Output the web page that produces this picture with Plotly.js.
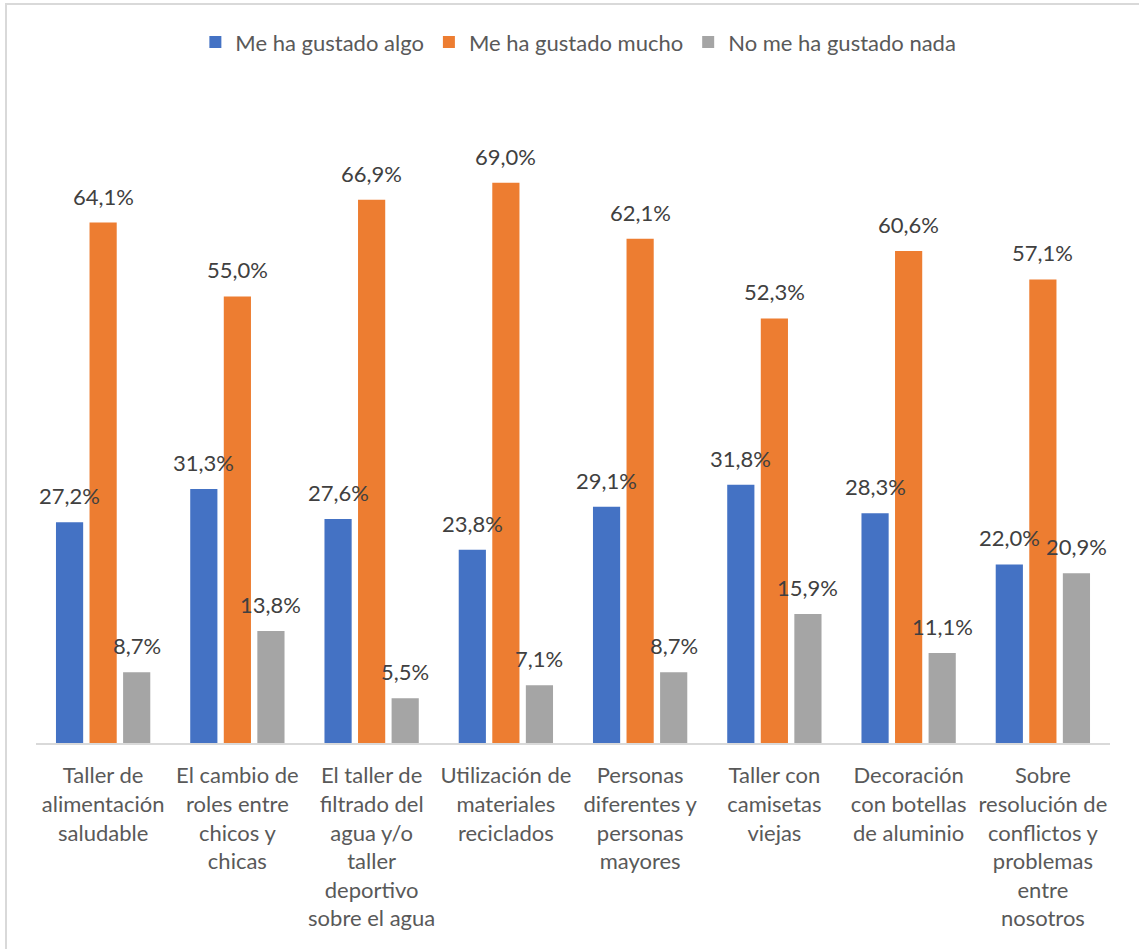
<!DOCTYPE html>
<html>
<head>
<meta charset="utf-8">
<script src="https://cdn.plot.ly/plotly-3.0.1.min.js"></script>
<style>
html,body{margin:0;padding:0;background:#fff;}
#wrap{position:relative;width:1139px;height:949px;overflow:hidden;}
#frame{position:absolute;left:5px;top:3px;width:1200px;height:1000px;border-left:2px solid #d9d9d9;border-top:2px solid #d9d9d9;pointer-events:none;}
#chart{position:absolute;left:0;top:0;width:1139px;height:949px;}
</style>
</head>
<body>
<div id="wrap"><div id="chart"></div><div id="frame"></div></div>
<script>
const categories = [
  "Taller de<br>alimentación<br>saludable",
  "El cambio de<br>roles entre<br>chicos y<br>chicas",
  "El taller de<br>filtrado del<br>agua y/o<br>taller<br>deportivo<br>sobre el agua",
  "Utilización de<br>materiales<br>reciclados",
  "Personas<br>diferentes y<br>personas<br>mayores",
  "Taller con<br>camisetas<br>viejas",
  "Decoración<br>con botellas<br>de aluminio",
  "Sobre<br>resolución de<br>conflictos y<br>problemas<br>entre<br>nosotros"
];
const seriesNames = ["Me ha gustado algo", "Me ha gustado mucho", "No me ha gustado nada"];
const algo  = [27.2, 31.3, 27.6, 23.8, 29.1, 31.8, 28.3, 22.0];
const mucho = [64.1, 55.0, 66.9, 69.0, 62.1, 52.3, 60.6, 57.1];
const nada  = [8.7, 13.8, 5.5, 7.1, 8.7, 15.9, 11.1, 20.9];

const values = [algo, mucho, nada];
const colors = ["#4472C4", "#ED7D31", "#A5A5A5"];
const FONT = "Lato, 'Open Sans', sans-serif";

const ids = categories.map((c, i) => "c" + i);

const traces = values.map((v, i) => ({
  type: "bar",
  name: seriesNames[i],
  x: ids,
  y: v,
  marker: {color: colors[i], line: {width: 0}},
  hoverinfo: "none"
}));

const fmt = v => v.toFixed(1).replace(".", ",") + "%";
const annotations = [];
values.forEach((v, i) => {
  v.forEach((val, j) => {
    annotations.push({
      x: ids[j], y: val, xref: "x", yref: "y",
      text: fmt(val), showarrow: false,
      xanchor: "center", yanchor: "bottom",
      xshift: (i - 1) * 33.5, yshift: 11,
      font: {family: FONT, size: 22, color: "#404040"}
    });
  });
});

const layout = {
  width: 1139, height: 949,
  margin: {l: 36, r: 29, t: 100, b: 206},
  paper_bgcolor: "#ffffff", plot_bgcolor: "#ffffff",
  barmode: "group", bargap: 0.25, bargroupgap: 0.19,
  font: {family: FONT, color: "#595959"},
  showlegend: true,
  legend: {
    orientation: "h", x: 0.505, xanchor: "center", y: 1.09, yanchor: "middle",
    font: {family: FONT, size: 22, color: "#595959"},
    traceorder: "normal", itemwidth: 30
  },
  xaxis: {
    type: "category",
    tickvals: ids, ticktext: categories,
    tickfont: {family: FONT, size: 22, color: "#595959"},
    showline: true, linecolor: "#d9d9d9", linewidth: 2,
    ticks: "", showgrid: false, zeroline: false,
    ticklabelstandoff: 12,
    fixedrange: true
  },
  yaxis: {
    range: [0, 79.2], visible: false, showgrid: false, zeroline: false, fixedrange: true
  },
  annotations: annotations
};

Plotly.newPlot("chart", traces, layout, {displayModeBar: false, staticPlot: true});
</script>
</body>
</html>
